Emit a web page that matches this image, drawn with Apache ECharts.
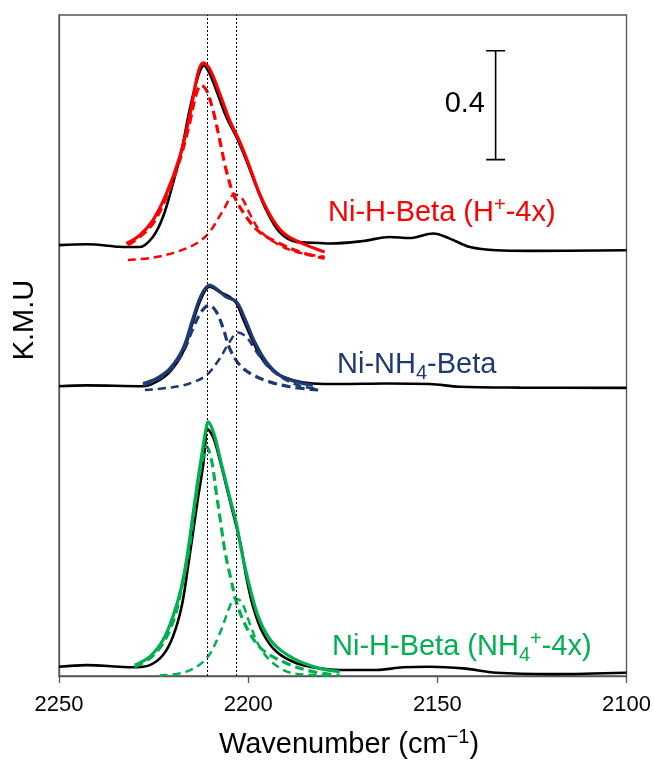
<!DOCTYPE html>
<html>
<head>
<meta charset="UTF-8">
<title>K.M.U</title>
<style>
body{margin:0;background:#fff;}
#main{width:654px;height:760px;}
</style>
</head>
<body>
<div id="main"></div>
<script src="https://cdn.jsdelivr.net/npm/echarts@6/dist/echarts.min.js"></script>
<script>
// x axis ticks and the two dotted reference positions
var xTicks = [2250, 2200, 2150, 2100];
var refLines = [2210.8, 2203.1];
// scale bar: position, bottom, top (0.4 K.M.U)
var scaleBar = [2134.6, 1.896, 2.296];

// Ni-H-Beta (H+-4x)
var hPlusExp = [[2250,1.582],[2242.8,1.585],[2234.0,1.576],[2232.2,1.575],[2228.7,1.575],[2225.2,1.612],[2222.5,1.686],[2219.9,1.808],[2217.6,1.930],[2215.5,2.077],[2213.3,2.199],[2211.7,2.242],[2210.2,2.212],[2208.4,2.150],[2205.8,2.053],[2203.1,1.979],[2200.5,1.894],[2197.8,1.796],[2195.2,1.710],[2191.7,1.630],[2187.2,1.594],[2181.1,1.590],[2178.4,1.588],[2169.7,1.597],[2162.6,1.612],[2157.3,1.608],[2151.1,1.625],[2146.7,1.606],[2141.4,1.575],[2134.4,1.563],[2125.6,1.561],[2100,1.563]];
var hPlusFit = [[2232.2,1.588],[2228.7,1.618],[2225.2,1.673],[2221.6,1.771],[2218.1,1.906],[2215.5,2.053],[2213.3,2.212],[2211.9,2.251],[2210.2,2.230],[2207.5,2.138],[2204.9,2.040],[2202.2,1.961],[2199.6,1.869],[2197.0,1.771],[2193.4,1.673],[2189.9,1.618],[2184.6,1.582],[2179.8,1.557]];
var hPlusPeakA = [[2231.8,1.582],[2228.7,1.612],[2225.2,1.661],[2221.6,1.759],[2218.1,1.894],[2215.5,2.028],[2213.7,2.138],[2212.4,2.169],[2211.0,2.150],[2209.3,2.077],[2207.5,1.967],[2205.8,1.857],[2203.6,1.759],[2200.5,1.686],[2197.0,1.630],[2191.7,1.588],[2186.4,1.557],[2179.8,1.533]];
var hPlusPeakB = [[2231.8,1.527],[2225.2,1.536],[2219.0,1.557],[2213.7,1.588],[2210.2,1.630],[2206.6,1.710],[2203.6,1.768],[2201.8,1.757],[2199.6,1.698],[2197.0,1.637],[2192.5,1.588],[2187.2,1.557],[2179.8,1.539]];

// Ni-NH4-Beta
var nh4Exp = [[2250,1.064],[2242.8,1.067],[2227.8,1.064],[2224.3,1.080],[2220.7,1.117],[2217.2,1.190],[2214.6,1.300],[2212.4,1.386],[2210.2,1.429],[2207.5,1.410],[2204.9,1.392],[2203.1,1.368],[2201.4,1.313],[2198.7,1.227],[2196.1,1.160],[2192.5,1.111],[2188.1,1.086],[2182.9,1.074],[2175.8,1.072],[2163.5,1.074],[2152.0,1.072],[2144.1,1.062],[2128.2,1.059],[2100,1.058]];
var nh4Fit = [[2227.8,1.074],[2224.3,1.092],[2220.7,1.129],[2217.2,1.203],[2214.6,1.313],[2212.4,1.398],[2210.2,1.435],[2208.0,1.417],[2205.8,1.392],[2203.1,1.374],[2200.9,1.313],[2198.3,1.227],[2195.2,1.153],[2191.7,1.105],[2187.2,1.080],[2182.9,1.068]];
var nh4PeakA = [[2227.8,1.068],[2224.3,1.086],[2220.7,1.123],[2217.2,1.190],[2214.6,1.276],[2212.4,1.337],[2210.3,1.361],[2208.4,1.337],[2206.6,1.276],[2204.9,1.203],[2202.2,1.141],[2198.7,1.105],[2194.3,1.080],[2189.0,1.062],[2181.5,1.050]];
var nh4PeakB = [[2227.3,1.050],[2220.7,1.059],[2215.5,1.074],[2211.0,1.105],[2207.5,1.166],[2204.9,1.227],[2202.7,1.261],[2200.5,1.245],[2197.8,1.190],[2194.3,1.129],[2189.9,1.086],[2185.5,1.062],[2181.5,1.056]];

// Ni-H-Beta (NH4+-4x)
var nh4PlusExp = [[2250,0.034],[2242.8,0.040],[2234.0,0.034],[2230.4,0.032],[2226.0,0.040],[2222.5,0.077],[2219.9,0.144],[2217.6,0.254],[2215.9,0.401],[2214.6,0.525],[2213.3,0.650],[2211.9,0.774],[2211.3,0.860],[2210.9,0.909],[2209.3,0.878],[2207.5,0.793],[2205.3,0.670],[2203.1,0.548],[2201.8,0.470],[2200.5,0.364],[2198.7,0.254],[2196.1,0.157],[2192.5,0.089],[2187.2,0.047],[2181.1,0.028],[2175.8,0.022],[2166.1,0.022],[2159.1,0.032],[2152.0,0.034],[2143.2,0.028],[2134.4,0.012],[2119.4,0.007],[2100,0.012]];
var nh4PlusFit = [[2230.0,0.040],[2226.0,0.071],[2222.5,0.132],[2219.9,0.218],[2217.6,0.328],[2215.9,0.462],[2214.6,0.591],[2213.3,0.719],[2211.9,0.844],[2211.1,0.910],[2210.6,0.933],[2209.1,0.891],[2207.1,0.781],[2204.9,0.658],[2203.1,0.560],[2201.8,0.462],[2199.6,0.328],[2197.0,0.206],[2193.4,0.120],[2188.1,0.065],[2181.1,0.028],[2175.8,0.016]];
var nh4PlusPeakA = [[2230.0,0.034],[2226.0,0.065],[2222.5,0.120],[2219.4,0.218],[2217.2,0.352],[2215.5,0.474],[2214.6,0.572],[2213.3,0.707],[2211.9,0.805],[2211.0,0.841],[2209.7,0.793],[2208.4,0.670],[2207.1,0.548],[2206.2,0.462],[2204.9,0.377],[2202.7,0.254],[2199.6,0.157],[2196.1,0.095],[2189.9,0.047],[2182.9,0.016],[2175.8,0.002]];
var nh4PlusPeakB = [[2223.4,0.002],[2216.3,0.016],[2211.0,0.065],[2207.5,0.157],[2204.9,0.254],[2203.6,0.285],[2201.8,0.273],[2199.6,0.193],[2197.0,0.108],[2193.4,0.047],[2188.1,0.010],[2178.4,0.002]];

var RED = '#ff0000', NAVY = '#1f3a73', GREEN = '#00b050';
var FONT = '"Liberation Sans", Arial, sans-serif';

function curve(data, color, width, dash, z){
	return {
		type:'line', data:data, symbol:'none', smooth:0.35, silent:true, z:z,
		lineStyle:{color:color, width:width, type:dash || 'solid'}
	};
}
function seg(data){
	return {type:'line', data:data, symbol:'none', silent:true, z:5, lineStyle:{color:'#000', width:1.6}};
}

var myChart = echarts.init(document.getElementById('main'));

var series = [
	curve(hPlusExp, '#000', 2.6, null, 3),
	curve(nh4Exp, '#000', 2.6, null, 3),
	curve(nh4PlusExp, '#000', 2.6, null, 3),
	curve(hPlusPeakA, RED, 3.2, [9,5], 4),
	curve(hPlusPeakB, RED, 2.5, [8,5], 4),
	curve(nh4PeakA, NAVY, 3.2, [9,5], 4),
	curve(nh4PeakB, NAVY, 2.5, [8,5], 4),
	curve(nh4PlusPeakA, GREEN, 3.2, [9,5], 4),
	curve(nh4PlusPeakB, GREEN, 2.5, [8,5], 4),
	curve(hPlusFit, RED, 3.2, null, 6),
	curve(nh4Fit, NAVY, 3.2, null, 6),
	curve(nh4PlusFit, GREEN, 3.2, null, 6)
];
// scale bar (vertical + caps)
var sx = scaleBar[0];
series.push(seg([[sx, scaleBar[1]], [sx, scaleBar[2]]]));
series.push(seg([[sx + 2.5, scaleBar[1]], [sx - 2.5, scaleBar[1]]]));
series.push(seg([[sx + 2.5, scaleBar[2]], [sx - 2.5, scaleBar[2]]]));
// dotted reference lines
series[0].markLine = {
	silent:true, symbol:'none', label:{show:false},
	lineStyle:{color:'#000', width:1, type:[2,2]},
	data: refLines.map(function(v){ return {xAxis:v}; })
};

function rich(color){
	return {
		a:{fontSize:29, lineHeight:36, fontFamily:FONT, fill:color},
		sub:{fontSize:20, lineHeight:20, verticalAlign:'bottom', fontFamily:FONT, fill:color},
		sup:{fontSize:20, lineHeight:26, verticalAlign:'top', fontFamily:FONT, fill:color}
	};
}

myChart.setOption({
	animation:false,
	backgroundColor:'#fff',
	grid:{left:59, right:27, top:15, bottom:84, show:true, borderColor:'#555', borderWidth:1.3},
	xAxis:{
		type:'value', min:2100, max:2250, interval:50, inverse:true,
		axisLine:{lineStyle:{color:'#555', width:1.3}},
		axisTick:{show:true, inside:false, length:7, lineStyle:{color:'#555', width:1.3}},
		axisLabel:{color:'#000', fontSize:22, fontFamily:FONT, margin:18,
			formatter:function(v){ return xTicks.indexOf(v) >= 0 ? String(v) : ''; }},
		splitLine:{show:false}
	},
	yAxis:{
		type:'value', min:0, max:2.427,
		axisLine:{show:true, lineStyle:{color:'#555', width:1.3}},
		axisTick:{show:false}, axisLabel:{show:false}, splitLine:{show:false}
	},
	graphic:[
		{type:'text', x:485, y:104, z:10, style:{text:'0.4', font:'29px ' + FONT, fill:'#000', align:'right', verticalAlign:'middle'}},
		{type:'text', x:328, y:213, z:10, style:{text:'{a|Ni-H-Beta (H}{sup|+}{a|-4x)}', rich:rich(RED), align:'left', verticalAlign:'middle'}},
		{type:'text', x:337, y:365, z:10, style:{text:'{a|Ni-NH}{sub|4}{a|-Beta}', rich:rich(NAVY), align:'left', verticalAlign:'middle'}},
		{type:'text', x:332, y:647, z:10, style:{text:'{a|Ni-H-Beta (NH}{sub|4}{sup|+}{a|-4x)}', rich:rich(GREEN), align:'left', verticalAlign:'middle'}},
		{type:'text', x:349, y:745, z:10, style:{text:'{a|Wavenumber (cm}{sup|\u22121}{a|)}', rich:rich('#000'), align:'center', verticalAlign:'middle'}},
		{type:'text', x:25, y:320, rotation:Math.PI/2, z:10, style:{text:'K.M.U', font:'29px ' + FONT, fill:'#000', align:'center', verticalAlign:'middle'}}
	],
	series:series
});
</script>
</body>
</html>
